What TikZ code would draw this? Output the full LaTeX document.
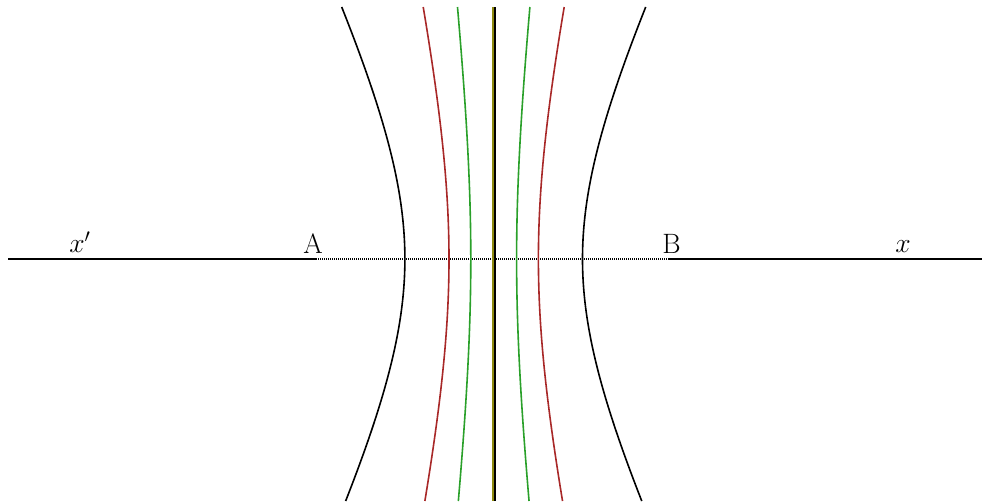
\documentclass[tikz,border=0pt]{standalone}
\usepackage{xcolor}
\usetikzlibrary{positioning}
\definecolor{hred}{HTML}{A82828}
\definecolor{hgrn}{HTML}{2AA02A}
\definecolor{olv}{HTML}{8E8A10}
\tikzset{
  axs/.style={line width=1.5pt},
  dts/.style={line width=1pt, dash pattern=on 0.75pt off 0.75pt},
  hyp/.style={line width=1.2pt},
  lbl/.style={inner sep=0pt, anchor=south, font=\fontsize{21}{24}\selectfont}}
\begin{document}
\begin{tikzpicture}[x=0.75pt, y=-0.75pt]
\useasboundingbox (0,0) rectangle (982,501);
\coordinate (L) at (8,259);
\coordinate (A) at (316,259);
\coordinate (B) at (669,259);
\coordinate (R) at (982,259);
\coordinate (ct) at (493.7,7);
\coordinate (cb) at (493.7,501);
\draw[axs] (L) -- (A);
\draw[dts] (A) -- (B);
\draw[axs] (B) -- (R);
\node[lbl] (xl) at (80,253) {$x'$};
\node[lbl] (la) at (313,254) {A};
\node[lbl] (lb) at (671.5,254) {B};
\node[lbl] (xr) at (903,253) {$x$};
\foreach \a/\b/\c in {88.8/181.4/black, 44.7/206.7/hred, 22.9/205.8/hgrn} {
  \draw[hyp, \c] plot[domain=7:501, samples=80, smooth] ({493.7-\a*sqrt(1+((\x-259)/\b)^2)}, \x);
  \draw[hyp, \c] plot[domain=7:501, samples=80, smooth] ({493.7+\a*sqrt(1+((\x-259)/\b)^2)}, \x);}
\draw[line width=1.2pt, olv] ([xshift=-0.75pt]ct) -- ([xshift=-0.75pt]cb);
\draw[line width=1.2pt, black] ([xshift=0.75pt]ct) -- ([xshift=0.75pt]cb);
\end{tikzpicture}
\end{document}
